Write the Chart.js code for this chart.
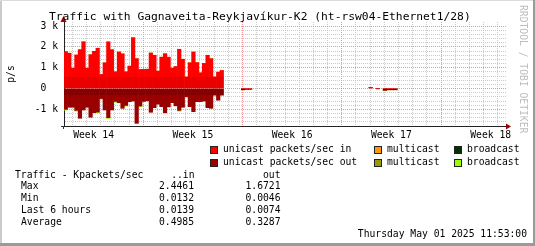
<!DOCTYPE html>
<html>
<head>
<meta charset="utf-8">
<script src="https://cdn.jsdelivr.net/npm/chart.js@4.4.1/dist/chart.umd.min.js"></script>
<style>
  html, body { margin: 0; padding: 0; background: #fff; }
  #wrap { position: relative; width: 535px; height: 246px; background: #fff; overflow: hidden;
          font-family: 'DejaVu Sans Mono', monospace; font-size: 9.7px; color: #000; }
  #wrap canvas { position: absolute; left: 0; top: 0; }
  .t { position: absolute; white-space: pre; line-height: 11px; }
  .box { position: absolute; width: 6px; height: 6px; border: 1px solid #222; }
  .edge { position: absolute; }
</style>
</head>
<body>
<div id="wrap">
  <canvas id="chart" width="535" height="246"></canvas>
  <div class="edge" style="left:0;top:0;width:2px;height:246px;background:#cbcbcb"></div>
  <div class="edge" style="left:0;top:0;width:535px;height:1px;background:#dcdcdc"></div>
  <div class="edge" style="right:0;top:0;width:2px;height:246px;background:#9a9a9a"></div>
  <div class="edge" style="left:0;bottom:0;width:535px;height:3px;background:#9a9a9a"></div>

  <div class="t" id="title" style="left:49px;top:10px;font-size:11.3px;line-height:13px">Traffic with Gagnaveita-Reykjavíkur-K2 (ht-rsw04-Ethernet1/28)</div>
  <div class="t" style="left:518px;top:5px;writing-mode:vertical-rl;color:#bdbdbd;line-height:11px">RRDTOOL / TOBI OETIKER</div>

  <div id="legend"></div>
  <div id="stats"></div>
  <div class="t" style="right:8px;top:227.5px">Thursday May 01 2025 11:53:00</div>
</div>
<script>
// 6-hour slots, values in k packets/sec
const slotHours = 6;
const unicastIn = [1.78, 1.70, 0.98, 1.62, 1.87, 2.25, 0.98, 1.63, 1.79, 1.94, 0.68, 1.24, 2.25, 1.87, 0.81,
    1.76, 1.67, 0.81, 1.08, 2.446, 1.44, 0.92, 0.92, 0.93, 1.71, 1.60, 0.84, 1.51, 1.68, 1.51,
    0.98, 1.06, 1.89, 1.41, 0.56, 1.24, 1.76, 1.25, 0.76, 1.21, 1.60, 1.44, 0.56, 0.79, 0.87];
const unicastOut = [1.00, 0.90, 0.90, 1.05, 1.43, 1.03, 0.90, 1.38, 1.16, 1.13, 0.48, 1.03, 1.40, 1.03, 0.62,
    0.68, 0.95, 0.81, 0.63, 0.60, 1.672, 0.84, 0.62, 0.59, 1.14, 0.92, 0.75, 0.87, 1.16, 0.87,
    0.68, 0.83, 1.05, 0.90, 0.40, 0.87, 1.11, 0.63, 0.63, 0.60, 0.92, 0.95, 0.32, 0.56, 0.32];
const broadcastOut = [0.04, 0, 0, 0.04, 0, 0, 0, 0, 0, 0.04, 0.04, 0, 0.04, 0, 0.04,
    0, 0, 0.04, 0, 0, 0, 0.04, 0, 0, 0, 0, 0, 0, 0.04, 0.04,
    0, 0, 0.04, 0, 0, 0, 0, 0, 0, 0, 0, 0, 0, 0, 0];
const multicastIn = [];
const multicastOut = [];
const broadcastIn = [];
// isolated small samples later in the month
const lateSlots = [50, 51, 52, 86, 88, 90, 91, 92, 93];
const lateIn = [0, 0, 0, 0.05, 0, 0, 0, 0, 0];
const lateOut = [0.06, 0.04, 0.04, 0, 0, 0.09, 0.06, 0.06, 0.06];
const lateBroadcastOut = [0, 0, 0, 0, 0.04, 0, 0, 0, 0];

// axes
const xMax = 748;
const weekStarts = [134, 302, 470, 638];
const weekLabelAt = [50, 218, 386, 554, 722];
const weekLabels = ['Week 14', 'Week 15', 'Week 16', 'Week 17', 'Week 18'];
const dayLines = [14, 38, 62, 86, 110, 134, 158, 182, 206, 230, 254, 278, 302, 326, 350, 374, 398, 422,
    446, 470, 494, 518, 542, 566, 590, 614, 638, 662, 686, 710, 734];
const yMin = -1.8, yMax = 3.2;
const yMajor = [-1, 0, 1, 2, 3];
const yLabels = ['-1 k', '0  ', '1 k', '2 k', '3 k'];

function points(values, sign) {
    return values.map((v, i) => ({ x: i * slotHours + 3, y: v ? sign * v : 0 }));
}
function latePoints(values, sign) {
    return lateSlots.map((s, i) => ({ x: s * slotHours + 3, y: values[i] ? sign * values[i] : 0 }));
}

const colors = {
    uIn: '#ff0000', uOut: '#990000', mIn: '#ff9900', mOut: '#999900', bIn: '#003300', bOut: '#99ff00'
};

const MAJOR = 'rgba(235,110,110,0.75)';
const MINOR = 'rgba(185,185,185,0.75)';

// rrdtool style shading: a slightly different tone near the zero line
function shaded(edge, nearColor, farColor) {
    return function (c) {
        const chart = c.chart, a = chart.chartArea;
        if (!a) return farColor;
        const py = chart.scales.y.getPixelForValue(edge);
        const f = Math.min(1, Math.max(0, (py - a.top) / (a.bottom - a.top)));
        const g = chart.ctx.createLinearGradient(0, a.top, 0, a.bottom);
        if (edge > 0) {
            g.addColorStop(0, farColor); g.addColorStop(f, farColor);
            g.addColorStop(f, nearColor); g.addColorStop(1, nearColor);
        } else {
            g.addColorStop(0, nearColor); g.addColorStop(f, nearColor);
            g.addColorStop(f, farColor); g.addColorStop(1, farColor);
        }
        return g;
    };
}

const arrows = {
    id: 'arrows',
    afterDraw(chart) {
        const { ctx, chartArea: a } = chart;
        ctx.save();
        ctx.fillStyle = '#a00000';
        ctx.beginPath();
        ctx.moveTo(a.right + 5, a.bottom + 0.5);
        ctx.lineTo(a.right, a.bottom - 2.5);
        ctx.lineTo(a.right, a.bottom + 3.5);
        ctx.fill();
        ctx.beginPath();
        ctx.moveTo(a.left - 0.5, a.top - 6);
        ctx.lineTo(a.left - 3.5, a.top);
        ctx.lineTo(a.left + 2.5, a.top);
        ctx.fill();
        ctx.strokeStyle = '#333';
        ctx.lineWidth = 1;
        ctx.beginPath();
        ctx.moveTo(a.left - 3, a.bottom + 0.5);
        ctx.lineTo(a.left, a.bottom + 0.5);
        ctx.moveTo(a.left - 0.5, a.bottom);
        ctx.lineTo(a.left - 0.5, a.bottom + 3);
        ctx.stroke();
        ctx.restore();
    }
};

const ds = (label, data, color) => ({
    label, data, backgroundColor: color, borderWidth: 0, stack: 'traffic',
    barPercentage: 1, categoryPercentage: 1
});

new Chart(document.getElementById('chart').getContext('2d'), {
    type: 'bar',
    data: {
        datasets: [
            ds('unicast packets/sec in', points(unicastIn, 1).concat(latePoints(lateIn, 1)),
                shaded(0.55, '#ea0000', colors.uIn)),
            ds('multicast', points(multicastIn, 1), colors.mIn),
            ds('broadcast', points(broadcastIn, 1), colors.bIn),
            ds('unicast packets/sec out', points(unicastOut, -1).concat(latePoints(lateOut, -1)),
                shaded(-0.32, '#850000', colors.uOut)),
            ds('multicast', points(multicastOut, -1), colors.mOut),
            ds('broadcast', points(broadcastOut, -1).concat(latePoints(lateBroadcastOut, -1)), colors.bOut)
        ]
    },
    options: {
        responsive: false,
        animation: false,
        devicePixelRatio: 1,
        layout: { padding: { left: 0, right: 29, top: 22, bottom: 0 } },
        plugins: { legend: { display: false }, tooltip: { enabled: false } },
        scales: {
            x: {
                type: 'linear', stacked: true, min: 0, max: xMax, offset: false,
                afterFit(s) { s.height = 120; },
                afterBuildTicks(s) {
                    const vals = dayLines.concat(weekLabelAt).sort((a, b) => a - b);
                    s.ticks = vals.map(v => ({ value: v }));
                },
                grid: {
                    offset: false, drawTicks: false, lineWidth: 1,
                    color: c => {
                        const v = c.tick && c.tick.value;
                        if (weekLabelAt.includes(v)) return 'rgba(0,0,0,0)';
                        return weekStarts.includes(v) ? MAJOR : MINOR;
                    }
                },
                border: { display: true, color: '#222', width: 1, dash: [1, 1] },
                ticks: {
                    autoSkip: false, maxRotation: 0, padding: 4, color: '#000',
                    font: { family: 'DejaVu Sans Mono', size: 9.7 },
                    callback: v => {
                        const i = weekLabelAt.indexOf(v);
                        return i >= 0 ? weekLabels[i] : '';
                    }
                }
            },
            y: {
                type: 'linear', stacked: true, min: yMin, max: yMax,
                afterFit(s) { s.width = 64; },
                afterBuildTicks(s) {
                    const t = [];
                    for (let i = -8; i <= 15; i++) t.push({ value: i / 5 });
                    s.ticks = t;
                },
                grid: {
                    drawTicks: false, lineWidth: 1,
                    color: c => {
                        const v = c.tick && c.tick.value;
                        if (v === undefined) return MINOR;
                        return yMajor.some(m => Math.abs(m - v) < 1e-6) ? MAJOR : MINOR;
                    }
                },
                border: { display: true, color: '#222', width: 1, dash: [1, 1] },
                title: {
                    display: true, text: 'p/s', color: '#000', padding: { top: 6, bottom: 0 },
                    font: { family: 'DejaVu Sans Mono', size: 9.7 }
                },
                ticks: {
                    autoSkip: false, padding: 6, color: '#000',
                    font: { family: 'DejaVu Sans Mono', size: 9.7 },
                    callback: v => {
                        const i = yMajor.findIndex(m => Math.abs(m - v) < 1e-6);
                        return i >= 0 ? yLabels[i] : '';
                    }
                }
            }
        }
    },
    plugins: [arrows]
});

// legend and summary table below the graph
const legendRows = [
    [['unicast packets/sec in', colors.uIn], ['multicast', colors.mIn], ['broadcast', colors.bIn]],
    [['unicast packets/sec out', colors.uOut], ['multicast', colors.mOut], ['broadcast', colors.bOut]]
];
const legendBoxX = [210, 374, 454];
const legendRowY = [146, 159];
const legend = document.getElementById('legend');
legendRows.forEach((row, r) => {
    row.forEach(([text, color], c) => {
        const b = document.createElement('div');
        b.className = 'box';
        b.style.left = legendBoxX[c] + 'px';
        b.style.top = legendRowY[r] + 'px';
        b.style.background = color;
        legend.appendChild(b);
        const t = document.createElement('div');
        t.className = 't';
        t.style.left = (legendBoxX[c] + 13) + 'px';
        t.style.top = (legendRowY[r] - 3) + 'px';
        t.textContent = text;
        legend.appendChild(t);
    });
});

const statNames = ['Max', 'Min', 'Last 6 hours', 'Average'];
const statIn = ['2.4461', '0.0132', '0.0139', '0.4985'];
const statOut = ['1.6721', '0.0046', '0.0074', '0.3287'];
const stats = document.getElementById('stats');
function addText(text, left, top, right) {
    const t = document.createElement('div');
    t.className = 't';
    t.textContent = text;
    t.style.top = top + 'px';
    if (right) t.style.right = (535 - left) + 'px'; else t.style.left = left + 'px';
    stats.appendChild(t);
}
addText('Traffic - Kpackets/sec', 15, 168.5);
addText('..in', 194.5, 168.5, true);
addText('out', 280.5, 168.5, true);
statNames.forEach((n, i) => {
    const top = 180 + i * 12;
    addText(n, 21, top);
    addText(statIn[i], 194, top, true);
    addText(statOut[i], 280.5, top, true);
});
</script>
</body>
</html>
